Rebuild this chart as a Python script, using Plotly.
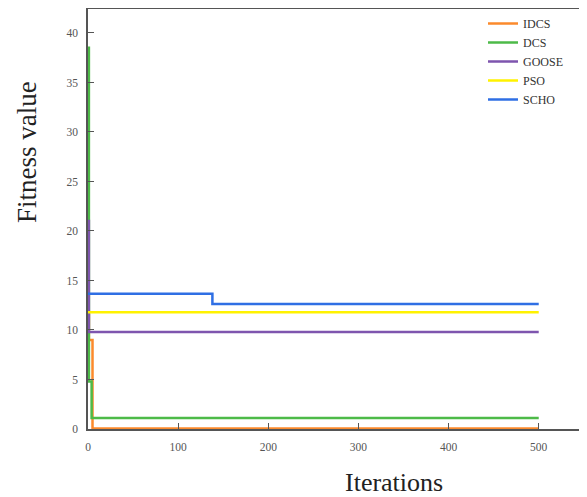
import plotly.graph_objects as go

# Data (step-wise convergence curves; iteration where value changes, value)
idcs_iter = [0, 1, 5, 500]
idcs_val = [11.5, 9.0, 0.05, 0.05]
dcs_iter = [0, 1, 4, 500]
dcs_val = [38.5, 4.8, 1.1, 1.1]
goose_iter = [0, 1, 500]
goose_val = [21.0, 9.8, 9.8]
pso_iter = [0, 500]
pso_val = [11.8, 11.8]
scho_iter = [0, 138, 500]
scho_val = [13.66, 12.62, 12.62]

names = ["IDCS", "DCS", "GOOSE", "PSO", "SCHO"]
colors = ["#FB8A2C", "#4DBA48", "#7E55AE", "#FFF200", "#2F6FE4"]
series = [(idcs_iter, idcs_val), (dcs_iter, dcs_val), (goose_iter, goose_val),
          (pso_iter, pso_val), (scho_iter, scho_val)]

x_ticks = [0, 100, 200, 300, 400, 500]
y_ticks = [0, 5, 10, 15, 20, 25, 30, 35, 40]

fig = go.Figure()
for name, col, (xs, ys) in zip(names, colors, series):
    fig.add_trace(go.Scatter(x=xs, y=ys, mode="lines", name=name,
                             line=dict(color=col, width=2.5, shape="hv")))

serif = "Liberation Serif, Times New Roman, serif"
# page body has an 8px margin, so the figure is sized to fit inside the window
W, H = 579, 489
L, R, T, B = 80, 5, 1, 68
PW, PH = W - L - R, H - T - B


def px_x(x):  # figure px -> paper x
    return (x - L) / PW


def px_y(y):  # figure px -> paper y
    return (H - B - y) / PH


fig.update_layout(
    width=W, height=H,
    margin=dict(l=L, r=R, t=T, b=B, autoexpand=False),
    paper_bgcolor="white", plot_bgcolor="white",
    font=dict(family=serif, color="#444"),
    showlegend=True,
    legend=dict(x=px_x(475), y=1.0, xanchor="left", yanchor="top",
                bgcolor="rgba(0,0,0,0)", font=dict(family=serif, size=12, color="#333"),
                itemwidth=30, tracegroupgap=0),
    xaxis=dict(range=[0, 548], tickvals=x_ticks, ticks="inside", ticklen=6,
               tickcolor="#555", showline=True, linecolor="#555", linewidth=1.5,
               mirror=True, showgrid=False, zeroline=False, automargin=False,
               ticklabelstandoff=6,
               tickfont=dict(family=serif, size=11.5, color="#555")),
    yaxis=dict(range=[0, 42.42], tickvals=y_ticks, ticks="inside", ticklen=6,
               tickcolor="#555", showline=True, linecolor="#555", linewidth=1.5,
               mirror=True, showgrid=False, zeroline=False, automargin=False,
               ticklabelstandoff=6,
               tickfont=dict(family=serif, size=11.5, color="#555")),
    annotations=[
        dict(text="Iterations", xref="paper", yref="paper",
             x=px_x(386), y=px_y(474),
             xanchor="center", yanchor="middle", showarrow=False,
             font=dict(family=serif, size=26, color="#222")),
        dict(text="Fitness value", xref="paper", yref="paper", textangle=-90,
             x=px_x(19), y=px_y(144),
             xanchor="center", yanchor="middle", showarrow=False,
             font=dict(family=serif, size=27, color="#222")),
    ],
)
fig.write_html("out.html")
